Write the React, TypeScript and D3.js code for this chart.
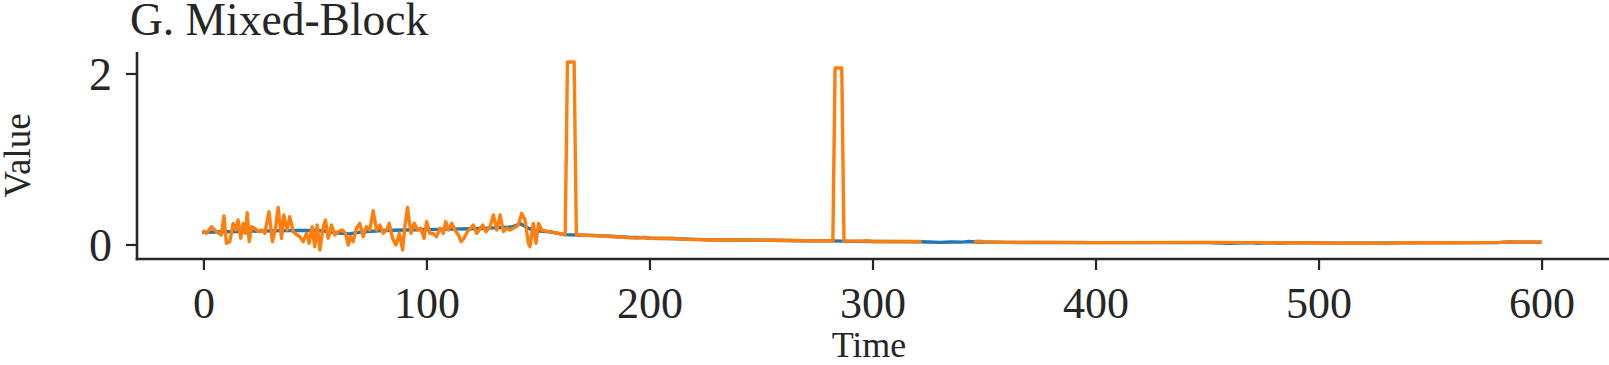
import React, { useEffect, useRef } from "react";
import * as d3 from "d3";

const TITLE = "G. Mixed-Block";
const X_LABEL = "Time";
const Y_LABEL = "Value";
const X_TICKS = [0, 100, 200, 300, 400, 500, 600];
const Y_TICKS = [0, 2];

// Ground truth (blue): [time, value]
const truthSeries: [number, number][] = [
  [0, 0.15], [10, 0.155], [20, 0.16], [30, 0.165], [40, 0.17], [50, 0.17], [55, 0.16],
  [60, 0.14], [65, 0.13], [70, 0.15], [80, 0.17], [90, 0.175], [100, 0.18], [110, 0.185],
  [120, 0.19], [130, 0.2], [138, 0.21], [142, 0.25], [145, 0.2], [148, 0.17], [152, 0.16],
  [156, 0.15], [160, 0.13], [163, 0.12], [170, 0.115], [180, 0.105], [190, 0.09], [198, 0.085],
  [200, 0.078], [210, 0.075], [217, 0.068], [228, 0.06], [240, 0.058], [255, 0.056], [270, 0.05],
  [282, 0.048], [290, 0.042], [300, 0.04], [320, 0.038], [325, 0.035], [330, 0.03], [335, 0.035],
  [340, 0.033], [343, 0.04], [346, 0.035], [360, 0.03], [400, 0.028], [450, 0.028], [460, 0.02],
  [470, 0.028], [472, 0.02], [480, 0.026], [482, 0.02], [490, 0.027], [510, 0.022], [537, 0.025],
  [580, 0.027], [585, 0.034], [599, 0.033],
];

// Observed / imputed (orange): [time, value | null]
const observedSeries: [number, number | null][] = [
  [0, 0.156], [1.1, 0.136], [3.4, 0.214], [5.6, 0.156], [7.8, 0.117], [9.0, 0.339], [10.1, 0.02],
  [11.6, 0.039], [13.1, 0.253], [14.3, 0.175], [15.3, 0.292], [16.5, 0.078], [17.6, 0.253],
  [18.6, 0.136], [19.4, 0.378], [20.3, 0.039], [21.3, 0.214], [22.8, 0.195], [24.3, 0.156],
  [25.8, 0.175], [27.3, 0.136], [29.2, 0.39], [30.7, 0.039], [32.1, 0.195], [33.3, 0.44],
  [34.8, 0.078], [35.8, 0.351], [37.3, 0.175], [38.5, 0.331], [40.0, 0.156], [41.8, 0.117],
  [43.0, 0.097], [44.5, 0.039], [46.0, 0.136], [47.2, 0.02], [48.5, 0.214], [49.7, -0.02],
  [50.8, 0.234], [52.0, -0.058], [53.2, 0.175], [54.5, 0.292], [55.7, 0.078], [57.2, 0.234],
  [58.7, 0.117], [60.2, 0.156], [62.0, 0.175], [63.5, 0.136], [64.7, 0.0], [65.7, 0.097],
  [66.9, 0.039], [68.4, 0.195], [69.9, 0.253], [71.4, 0.097], [72.9, 0.214], [74.4, 0.175],
  [75.9, 0.4], [77.4, 0.175], [78.9, 0.234], [80.4, 0.136], [81.9, 0.175], [83.1, 0.253],
  [84.6, 0.078], [86.1, 0.0], [87.6, 0.136], [89.1, -0.058], [90.1, 0.214], [91.3, 0.44],
  [92.8, 0.136], [94.3, 0.253], [95.8, 0.175], [97.2, 0.195], [98.7, 0.078], [99.9, 0.273],
  [101.3, 0.136], [102.8, 0.136], [104.3, 0.097], [105.8, 0.195], [107.3, 0.136], [108.4, 0.273],
  [109.6, 0.175], [111.1, 0.253], [112.6, 0.175], [114.1, 0.117], [115.3, 0.039], [116.6, 0.078],
  [118.1, 0.156], [119.6, 0.195], [120.8, 0.234], [122.3, 0.136], [123.5, 0.175], [125.0, 0.234],
  [126.5, 0.156], [128.3, 0.214], [129.8, 0.351], [131.3, 0.175], [132.8, 0.351], [134.3, 0.156],
  [135.8, 0.195], [137.3, 0.175], [138.7, 0.195], [141.0, 0.234], [142.5, 0.37], [144.0, 0.292],
  [145.5, 0.02], [146.2, -0.02], [147.7, 0.253], [148.9, 0.02], [150.0, 0.253], [151.5, 0.175],
  [154.5, 0.156], [158, 0.14], [162, 0.12], [163, 2.14], [166, 2.14], [167, 0.117], [175, 0.11],
  [184, 0.097], [194, 0.08], [198, 0.09], [200, 0.078], [210, 0.075], [217, 0.066], [227, 0.058],
  [239, 0.058], [254, 0.056], [269, 0.05], [282, 0.048], [283, 2.07], [286, 2.07], [287, 0.045],
  [295, 0.045], [297, 0.05], [300, 0.04], [313, 0.04], [321, 0.04], [322, null], [345, null],
  [346, 0.04], [348, 0.045], [350, 0.035], [360, 0.03], [380, 0.03], [400, 0.028], [450, 0.03],
  [470, 0.028], [486, 0.024], [489, 0.028], [509, 0.02], [515, 0.025], [520, 0.018], [525, 0.024],
  [530, 0.018], [537, 0.026], [560, 0.026], [582, 0.03], [585, 0.036], [590, 0.032], [595, 0.036],
  [599, 0.032],
];

const W = 1609;
const H = 365;
const LEFT = 137;
const RIGHT = 1609;
const TOP = 52;
const BOTTOM = 259;
const FONT = "'Liberation Serif', 'Times New Roman', serif";
const INK = "#262626";

export default function App() {
  const ref = useRef<SVGSVGElement | null>(null);

  useEffect(() => {
    document.body.style.margin = "0";
    const svg = d3.select(ref.current);
    svg.selectAll("*").remove();

    const x = d3.scaleLinear().domain([-30, 630]).range([LEFT, RIGHT]);
    const y = d3.scaleLinear().domain([-0.164, 2.257]).range([BOTTOM, TOP]);

    const g = svg.append("g");

    const lineTruth = d3
      .line<[number, number]>()
      .x((d) => x(d[0]))
      .y((d) => y(d[1]));
    const lineObs = d3
      .line<[number, number | null]>()
      .defined((d) => d[1] !== null)
      .x((d) => x(d[0]))
      .y((d) => y(d[1] as number));

    g.append("path")
      .attr("d", lineTruth(truthSeries) as string)
      .attr("fill", "none")
      .attr("stroke", "#1f77b4")
      .attr("stroke-width", 3.4)
      .attr("stroke-linejoin", "round")
      .attr("stroke-linecap", "square");

    g.append("path")
      .attr("d", lineObs(observedSeries) as string)
      .attr("fill", "none")
      .attr("stroke", "#ff7f0e")
      .attr("stroke-width", 3.4)
      .attr("stroke-linejoin", "round")
      .attr("stroke-linecap", "square");

    // spines
    g.append("line")
      .attr("x1", LEFT).attr("x2", LEFT).attr("y1", TOP).attr("y2", BOTTOM + 1.3)
      .attr("stroke", INK).attr("stroke-width", 2.6);
    g.append("line")
      .attr("x1", LEFT - 1.3).attr("x2", RIGHT).attr("y1", BOTTOM).attr("y2", BOTTOM)
      .attr("stroke", INK).attr("stroke-width", 2.6);

    // x ticks
    X_TICKS.forEach((t) => {
      g.append("line")
        .attr("x1", x(t)).attr("x2", x(t)).attr("y1", BOTTOM).attr("y2", BOTTOM + 11)
        .attr("stroke", INK).attr("stroke-width", 2.2);
      g.append("text")
        .attr("x", x(t)).attr("y", 318)
        .attr("text-anchor", "middle")
        .attr("font-family", FONT).attr("font-size", 44).attr("fill", INK)
        .text(String(t));
    });

    // y ticks
    Y_TICKS.forEach((t) => {
      g.append("line")
        .attr("x1", LEFT - 11).attr("x2", LEFT).attr("y1", y(t)).attr("y2", y(t))
        .attr("stroke", INK).attr("stroke-width", 2.2);
      g.append("text")
        .attr("x", 112).attr("y", y(t)).attr("dy", "0.35em")
        .attr("text-anchor", "end")
        .attr("font-family", FONT).attr("font-size", 46).attr("fill", INK)
        .text(String(t));
    });

    // labels
    g.append("text")
      .attr("x", (LEFT + RIGHT) / 2 - 4).attr("y", 357)
      .attr("text-anchor", "middle")
      .attr("font-family", FONT).attr("font-size", 36).attr("fill", INK)
      .text(X_LABEL);
    g.append("text")
      .attr("transform", `translate(30, ${(TOP + BOTTOM) / 2}) rotate(-90)`)
      .attr("text-anchor", "middle")
      .attr("font-family", FONT).attr("font-size", 37).attr("fill", INK)
      .text(Y_LABEL);
    g.append("text")
      .attr("x", 130).attr("y", 35)
      .attr("font-family", FONT).attr("font-size", 45.5).attr("fill", INK)
      .text(TITLE);
  }, []);

  return (
    <svg
      ref={ref}
      width={W}
      height={H}
      style={{ position: "absolute", left: 0, top: 0, background: "#fff" }}
    />
  );
}
